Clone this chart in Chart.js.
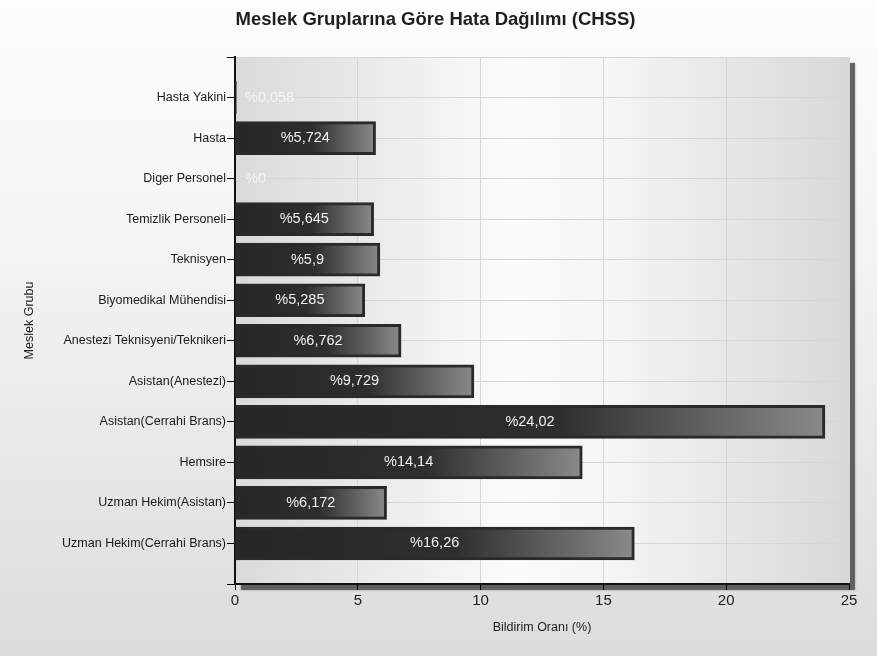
<!DOCTYPE html>
<html>
<head>
<meta charset="utf-8">
<script src="https://cdn.jsdelivr.net/npm/chart.js@4"></script>
<style>
html,body{margin:0;padding:0;background:#fff;}
#wrap{width:877px;height:656px;background:linear-gradient(to bottom,#fdfdfd 0%,#f3f3f3 40%,#dcdcdc 100%);}
</style>
</head>
<body>
<div id="wrap"><canvas id="c" width="877" height="656"></canvas></div>
<script>
const chartTitle = 'Meslek Gruplarına Göre Hata Dağılımı (CHSS)';
const xAxisTitle = 'Bildirim Oranı (%)';
const yAxisTitle = 'Meslek Grubu';
const categories = [
  'Hasta Yakini',
  'Hasta',
  'Diger Personel',
  'Temizlik Personeli',
  'Teknisyen',
  'Biyomedikal Mühendisi',
  'Anestezi Teknisyeni/Teknikeri',
  'Asistan(Anestezi)',
  'Asistan(Cerrahi Brans)',
  'Hemsire',
  'Uzman Hekim(Asistan)',
  'Uzman Hekim(Cerrahi Brans)'
];
const values = [0.058, 5.724, 0, 5.645, 5.9, 5.285, 6.762, 9.729, 24.02, 14.14, 6.172, 16.26];
const xTicks = [0, 5, 10, 15, 20, 25];

// pad with empty slots above and below (axis extends one band beyond)
const labels = [''].concat(categories, ['']);
const data = [null].concat(values, [null]);

const FONT = "'Liberation Sans', Arial, sans-serif";

const bgPlugin = {
  id: 'plotbg',
  beforeDraw(chart) {
    const {ctx, chartArea: a} = chart;
    ctx.save();
    // drop shadow
    ctx.fillStyle = 'rgba(80,80,80,0.8)';
    ctx.shadowColor = 'rgba(0,0,0,0.4)';
    ctx.shadowBlur = 2;
    ctx.fillRect(a.left + 6, a.top + 6, a.right - a.left, a.bottom - a.top);
    ctx.shadowBlur = 0;
    const g = ctx.createLinearGradient(a.left, 0, a.right, 0);
    g.addColorStop(0, '#dadada');
    g.addColorStop(0.45, '#fbfbfb');
    g.addColorStop(0.6, '#f6f6f6');
    g.addColorStop(1, '#d8d8d8');
    ctx.fillStyle = g;
    ctx.fillRect(a.left, a.top, a.right - a.left, a.bottom - a.top);
    ctx.restore();
  }
};

const valueLabels = {
  id: 'valueLabels',
  afterDatasetsDraw(chart) {
    const {ctx} = chart;
    const meta = chart.getDatasetMeta(0);
    const xs = chart.scales.x;
    ctx.save();
    ctx.font = '14.5px ' + FONT;
    ctx.textBaseline = 'middle';
    meta.data.forEach((bar, i) => {
      const v = data[i];
      if (v == null) return;
      const txt = '%' + String(v).replace('.', ',');
      const x0 = xs.getPixelForValue(0);
      if (bar.x - x0 < 30) {
        ctx.fillStyle = '#f4f4f4';
        ctx.textAlign = 'left';
        ctx.fillText(txt, x0 + 10, bar.y);
      } else {
        ctx.fillStyle = '#f0f0f0';
        ctx.textAlign = 'center';
        ctx.fillText(txt, (x0 + bar.x) / 2, bar.y);
      }
    });
    ctx.restore();
  }
};

new Chart(document.getElementById('c'), {
  type: 'bar',
  data: {
    labels: labels,
    datasets: [{
      data: data,
      barThickness: 33,
      borderWidth: 3,
      borderColor: '#2a2a2a',
      borderSkipped: false,
      backgroundColor: (c) => {
        const chart = c.chart;
        const a = chart.chartArea;
        const v = c.raw;
        if (!a || v == null) return '#2a2a2a';
        const xs = chart.scales.x;
        const x0 = xs.getPixelForValue(0), x1 = xs.getPixelForValue(v);
        if (x1 - x0 < 2) return '#2a2a2a';
        const g = chart.ctx.createLinearGradient(x0, 0, x1, 0);
        g.addColorStop(0, '#262626');
        g.addColorStop(0.55, '#2e2e2e');
        g.addColorStop(1, '#8a8a8a');
        return g;
      }
    }]
  },
  options: {
    indexAxis: 'y',
    responsive: false,
    animation: false,
    devicePixelRatio: 1,
    layout: {padding: {left: 22, right: 28, top: 0, bottom: 10}},
    plugins: {
      legend: {display: false},
      tooltip: {enabled: false},
      title: {
        display: true,
        text: chartTitle,
        color: '#1e1e1e',
        font: {family: FONT, size: 18.5, weight: 'bold'},
        padding: {top: 9, bottom: 25.8}
      }
    },
    scales: {
      x: {
        min: 0, max: 25,
        afterBuildTicks(s) { s.ticks = xTicks.map(v => ({value: v})); },
        ticks: {color: '#222', font: {family: FONT, size: 15}, padding: 2},
        grid: {color: '#d6d6d6', tickColor: '#000', tickLength: 6, drawTicks: true},
        border: {color: '#111', width: 2},
        title: {display: true, text: xAxisTitle, color: '#222', font: {family: FONT, size: 12.5}, padding: {top: 4, bottom: 11}},
        afterFit(s) { s.height = 62; }
      },
      y: {
        type: 'category',
        offset: false,
        ticks: {color: '#1a1a1a', font: {family: FONT, size: 12.5}, padding: 1, autoSkip: false},
        grid: {color: '#d6d6d6', tickColor: '#000', tickLength: 8, offset: false},
        border: {color: '#111', width: 2},
        title: {display: true, text: yAxisTitle, color: '#222', font: {family: FONT, size: 12.5}, padding: {top: 0, bottom: 0}},
        afterFit(s) { s.width = 213; }
      }
    }
  },
  plugins: [bgPlugin, valueLabels]
});
</script>
</body>
</html>
